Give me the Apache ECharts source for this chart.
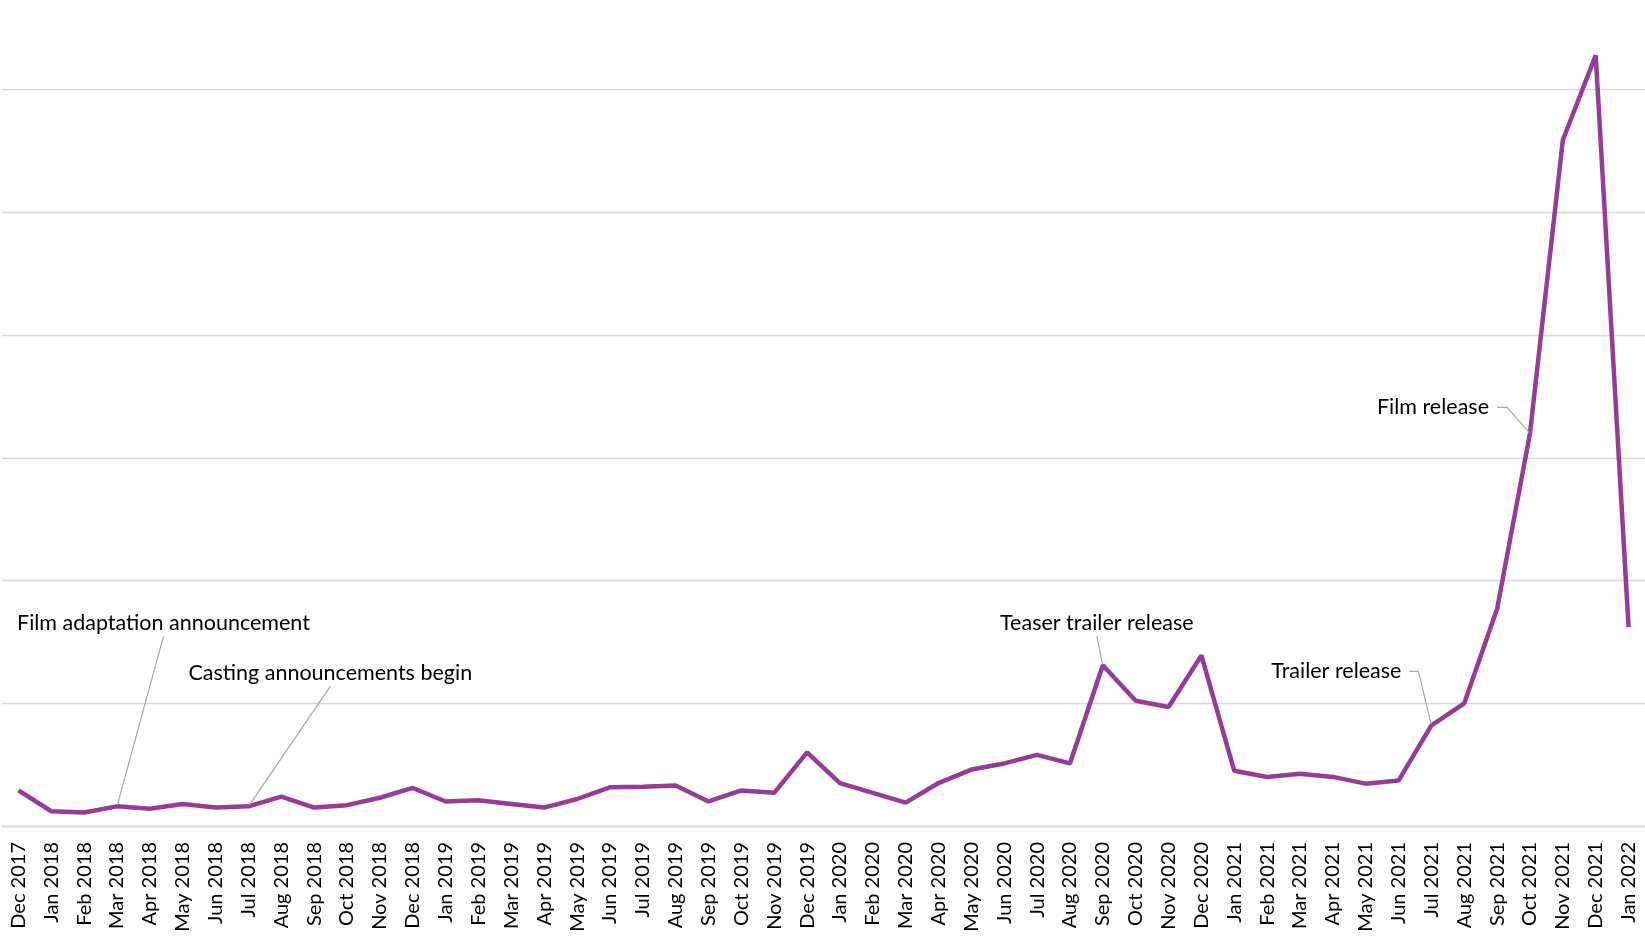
<!DOCTYPE html>
<html>
<head>
<meta charset="utf-8">
<title>Search interest</title>
<script src="https://cdn.jsdelivr.net/npm/echarts@6/dist/echarts.min.js"></script>
<style>
  html, body { margin: 0; padding: 0; background: #fff; overflow: hidden; }
  /* 顶部留出 33px 在窗口外，最上面那条网格线不显示 */
  #chart { position: absolute; left: 0; top: -33px; width: 1645px; height: 974px; }
</style>
</head>
<body>
<div id="chart"></div>
<script>
// 月份
const months = [
  'Dec 2017',
  'Jan 2018', 'Feb 2018', 'Mar 2018', 'Apr 2018', 'May 2018', 'Jun 2018',
  'Jul 2018', 'Aug 2018', 'Sep 2018', 'Oct 2018', 'Nov 2018', 'Dec 2018',
  'Jan 2019', 'Feb 2019', 'Mar 2019', 'Apr 2019', 'May 2019', 'Jun 2019',
  'Jul 2019', 'Aug 2019', 'Sep 2019', 'Oct 2019', 'Nov 2019', 'Dec 2019',
  'Jan 2020', 'Feb 2020', 'Mar 2020', 'Apr 2020', 'May 2020', 'Jun 2020',
  'Jul 2020', 'Aug 2020', 'Sep 2020', 'Oct 2020', 'Nov 2020', 'Dec 2020',
  'Jan 2021', 'Feb 2021', 'Mar 2021', 'Apr 2021', 'May 2021', 'Jun 2021',
  'Jul 2021', 'Aug 2021', 'Sep 2021', 'Oct 2021', 'Nov 2021', 'Dec 2021',
  'Jan 2022'
];

// 搜索热度
const interest = [
  2.9,
  1.2, 1.1, 1.6, 1.4, 1.8, 1.5,
  1.6, 2.4, 1.5, 1.7, 2.3, 3.1,
  2.0, 2.1, 1.8, 1.5, 2.2, 3.15,
  3.2, 3.3, 2.0, 2.9, 2.7, 6.0,
  3.5, 2.7, 1.9, 3.5, 4.6, 5.1,
  5.8, 5.1, 13.1, 10.2, 9.7, 13.9,
  4.5, 4.0, 4.25, 4.0, 3.45, 3.7,
  8.2, 10.0, 17.7, 32.0, 55.9, 62.8,
  16.2
];

// 标注
const noteMonths = ['Mar 2018', 'Jul 2018', 'Sep 2020', 'Jul 2021', 'Oct 2021'];
const noteTexts = [
  'Film adaptation announcement',
  'Casting announcements begin',
  'Teaser trailer release',
  'Trailer release',
  'Film release'
];

// 标注文字相对数据点的位置（padding 用来让引导线从文字下方中间出发）
const noteLayout = {
  'Mar 2018': { dx: -100, dy: -183, align: 'left', length2: 0, padding: [0, 0, 4, 0] },
  'Jul 2018': { dx: -100, dy: -133, align: 'left', length2: 0, padding: [0, 40, 4, 40] },
  'Sep 2020': { dx: -6, dy: -42, align: 'center', length2: 0, padding: [0, 0, 4, 0] },
  'Jul 2021': { dx: -22, dy: -54, align: 'right', length2: 9, padding: [0, 8, 0, 0] },
  'Oct 2021': { dx: -33, dy: -26, align: 'right', length2: 10, padding: [0, 8, 0, 0] }
};

const FONT = 'Lato';

const seriesData = interest.map(function (v, i) {
  const k = noteMonths.indexOf(months[i]);
  if (k < 0) return v;
  const lay = noteLayout[months[i]];
  return {
    value: v,
    symbol: 'circle',
    symbolSize: 2,
    label: {
      show: true,
      formatter: noteTexts[k],
      padding: lay.padding,
      // 透明背景，让 padding 算进文字包围盒
      backgroundColor: 'rgba(255,255,255,0)'
    },
    labelLine: {
      show: true,
      length2: lay.length2
    }
  };
});

const chart = echarts.init(document.getElementById('chart'));

const option = {
  animation: false,
  grid: {
    left: 2,
    right: 0,
    top: 0,
    bottom: 115
  },
  xAxis: {
    type: 'category',
    data: months,
    boundaryGap: true,
    axisLine: { show: true, lineStyle: { color: '#d9d9d9', width: 1.4 } },
    axisTick: { show: false },
    axisLabel: {
      interval: 0,
      rotate: 90,
      margin: 16,
      color: '#000',
      fontSize: 20,
      fontFamily: FONT
    }
  },
  yAxis: {
    type: 'value',
    min: 0,
    max: 70,
    interval: 10,
    axisLine: { show: false },
    axisTick: { show: false },
    axisLabel: { show: false },
    splitLine: { lineStyle: { color: '#d9d9d9', width: 1.4 } }
  },
  series: [{
    type: 'line',
    data: seriesData,
    symbol: 'none',
    showSymbol: true,
    showAllSymbol: true,
    itemStyle: { color: '#973b9a' },
    lineStyle: { color: '#973b9a', width: 4.5 },
    label: {
      show: false,
      color: '#000',
      fontSize: 21.5,
      fontFamily: FONT
    },
    labelLine: {
      lineStyle: { color: '#a6a6a6', width: 1.2 }
    },
    labelLayout: function (params) {
      const lay = noteLayout[months[params.dataIndex]];
      if (!lay) return {};
      const r = params.rect;
      const cx = r.x + r.width / 2;
      const cy = r.y + r.height / 2;
      return {
        x: cx + lay.dx,
        y: cy + lay.dy,
        align: lay.align,
        verticalAlign: 'middle'
      };
    }
  }]
};

chart.setOption(option);
</script>
</body>
</html>
